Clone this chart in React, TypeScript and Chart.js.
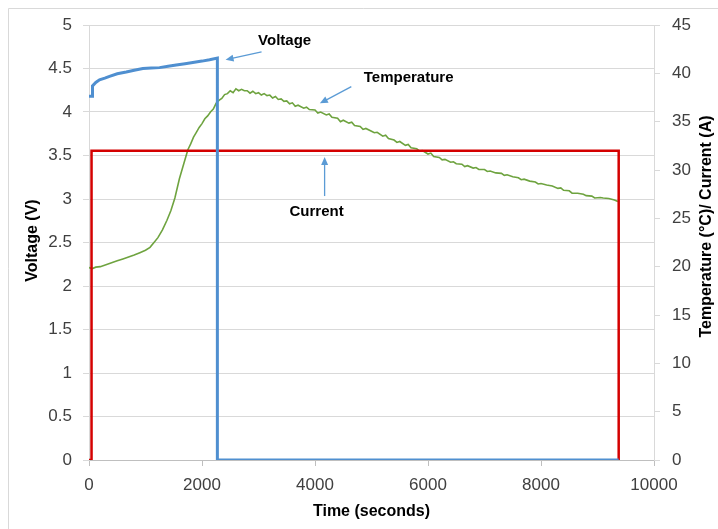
import React, { useEffect, useRef } from "react";
import { Chart, registerables } from "chart.js";

Chart.register(...registerables);

// ---- Data ----
const xTicks = [0, 2000, 4000, 6000, 8000, 10000];
const voltageTicks = [0, 0.5, 1, 1.5, 2, 2.5, 3, 3.5, 4, 4.5, 5];
const rightTicks = [0, 5, 10, 15, 20, 25, 30, 35, 40, 45];

const voltageTime = [0, 60, 62, 120, 186, 280, 363, 500, 659, 800, 953, 1100, 1248, 1400, 1544, 1700, 1838, 2000, 2134, 2272, 2272, 9375];
const voltageValue = [4.18, 4.18, 4.3, 4.34, 4.37, 4.39, 4.41, 4.44, 4.46, 4.48, 4.5, 4.505, 4.51, 4.525, 4.54, 4.555, 4.57, 4.585, 4.6, 4.62, 0, 0];

const currentTime = [0, 45, 45, 9375, 9375];
const currentValue = [0, 0, 32, 32, 0];

const tempTime = [
  0, 60, 120, 200, 300, 400, 500, 600, 700, 800, 900, 1000, 1080, 1150, 1220, 1300, 1380, 1450, 1520, 1600,
  1680, 1750, 1800, 1850, 1900, 1950, 2000, 2050, 2100, 2150, 2200, 2250, 2300, 2350, 2400, 2450, 2500, 2550,
  2600, 2650, 2700, 2750, 2800, 2850, 2900, 2950, 3000, 3050, 3100, 3150, 3200, 3250, 3300, 3350, 3400, 3450,
  3500, 3550, 3600, 3650, 3700, 3800, 3850, 3900, 4000, 4050, 4100, 4200, 4250, 4300, 4400, 4450, 4500, 4600,
  4650, 4700, 4800, 4850, 4900, 5000, 5050, 5100, 5200, 5250, 5300, 5400, 5450, 5500, 5600, 5650, 5700, 5800,
  5850, 5900, 6000, 6050, 6100, 6200, 6250, 6300, 6400, 6450, 6500, 6600, 6650, 6700, 6800, 6850, 6900, 7000,
  7050, 7100, 7200, 7300, 7350, 7400, 7500, 7600, 7650, 7700, 7800, 7900, 7950, 8000, 8100, 8200, 8300, 8350,
  8400, 8500, 8550, 8650, 8700, 8750, 8800, 8900, 8950, 9050, 9100, 9200, 9300, 9360,
];
const tempValue = [
  19.9, 19.8, 19.95, 20.0, 20.2, 20.4, 20.6, 20.8, 21.0, 21.2, 21.45, 21.7, 22.0, 22.5, 23.0, 23.8, 24.8, 25.8, 27.1, 29.1,
  30.7, 32.1, 32.7, 33.4, 33.9, 34.4, 34.8, 35.3, 35.6, 36.0, 36.3, 36.9, 37.2, 37.4, 37.8, 37.9, 38.2, 38.0,
  38.4, 38.2, 38.35, 38.2, 38.2, 37.95, 38.15, 37.9, 38.0, 37.75, 37.9, 37.7, 37.75, 37.45, 37.6, 37.3, 37.35, 37.1,
  37.15, 36.85, 36.95, 36.6, 36.7, 36.4, 36.5, 36.25, 36.2, 35.9, 36.0, 35.7, 35.8, 35.45, 35.35, 35.0, 35.15, 34.85,
  34.95, 34.6, 34.5, 34.2, 34.3, 34.0, 33.85, 33.9, 33.5, 33.6, 33.25, 33.1, 32.85, 32.95, 32.55, 32.65, 32.3, 32.2,
  31.95, 32.0, 31.65, 31.75, 31.4, 31.3, 31.05, 31.1, 30.8, 30.85, 30.65, 30.6, 30.35, 30.45, 30.2, 30.25, 30.05, 30.05,
  29.85, 29.9, 29.7, 29.65, 29.45, 29.5, 29.3, 29.2, 29.0, 29.05, 28.85, 28.75, 28.55, 28.6, 28.45, 28.35, 28.1, 28.15,
  27.9, 27.85, 27.6, 27.6, 27.55, 27.5, 27.35, 27.3, 27.1, 27.15, 27.1, 27.05, 26.9, 26.75,
];

// annotation labels (data coordinates: seconds / volts)
const annotationText = ["Voltage", "Temperature", "Current"];
const annotationLabelX = [3462, 5657, 4028];
const annotationLabelY = [4.816, 4.387, 2.851];
const arrowFromX = [3054, 4643, 4170];
const arrowFromY = [4.69, 4.291, 3.034];
const arrowToX = [2417, 4086, 4170];
const arrowToY = [4.6, 4.1, 3.483];

const FONT = "'Liberation Sans', Arial, sans-serif";
const TICK_COLOR = "#404040";

const toPoints = (xs: number[], ys: number[]) => xs.map((x, i) => ({ x, y: ys[i] }));
const plainLabel = (v: any) => String(v);

const decorPlugin = {
  id: "decor",
  beforeDraw(chart: any) {
    const { ctx, width, height } = chart;
    ctx.save();
    ctx.fillStyle = "#ffffff";
    ctx.fillRect(0, 0, width, height);
    ctx.strokeStyle = "#d9d9d9";
    ctx.lineWidth = 1;
    ctx.beginPath();
    ctx.moveTo(8.5, height);
    ctx.lineTo(8.5, 8.5);
    ctx.lineTo(width, 8.5);
    ctx.stroke();
    ctx.restore();
  },
  afterDraw(chart: any) {
    const { ctx, chartArea } = chart;
    const xs = chart.scales.x;
    const ys = chart.scales.y;
    ctx.save();
    // axis titles
    ctx.fillStyle = "#000000";
    ctx.font = `bold 16px ${FONT}`;
    ctx.textAlign = "center";
    ctx.textBaseline = "middle";
    ctx.fillText("Time (seconds)", (chartArea.left + chartArea.right) / 2, chartArea.bottom + 52);
    const midY = (chartArea.top + chartArea.bottom) / 2;
    ctx.save();
    ctx.translate(chartArea.left - 56, midY - 2);
    ctx.rotate(-Math.PI / 2);
    ctx.fillText("Voltage (V)", 0, 0);
    ctx.restore();
    ctx.save();
    ctx.translate(chartArea.right + 53, midY - 16);
    ctx.rotate(-Math.PI / 2);
    ctx.fillText("Temperature (°C)/ Current (A)", 0, 0);
    ctx.restore();

    // annotations
    ctx.font = `bold 15px ${FONT}`;
    ctx.fillStyle = "#000000";
    annotationText.forEach((t, i) => {
      ctx.fillText(t, xs.getPixelForValue(annotationLabelX[i]), ys.getPixelForValue(annotationLabelY[i]));
    });
    ctx.strokeStyle = "#5b9bd5";
    ctx.fillStyle = "#5b9bd5";
    ctx.lineWidth = 1.3;
    annotationText.forEach((_, i) => {
      const x1 = xs.getPixelForValue(arrowFromX[i]);
      const y1 = ys.getPixelForValue(arrowFromY[i]);
      const x2 = xs.getPixelForValue(arrowToX[i]);
      const y2 = ys.getPixelForValue(arrowToY[i]);
      const ang = Math.atan2(y2 - y1, x2 - x1);
      const len = 8;
      const hw = 3.5;
      ctx.beginPath();
      ctx.moveTo(x1, y1);
      ctx.lineTo(x2 - Math.cos(ang) * len * 0.8, y2 - Math.sin(ang) * len * 0.8);
      ctx.stroke();
      ctx.beginPath();
      ctx.moveTo(x2, y2);
      ctx.lineTo(x2 - Math.cos(ang) * len - Math.sin(ang) * hw, y2 - Math.sin(ang) * len + Math.cos(ang) * hw);
      ctx.lineTo(x2 - Math.cos(ang) * len + Math.sin(ang) * hw, y2 - Math.sin(ang) * len - Math.cos(ang) * hw);
      ctx.closePath();
      ctx.fill();
    });
    ctx.restore();
  },
};

export default function App() {
  const ref = useRef<HTMLCanvasElement | null>(null);

  useEffect(() => {
    if (!ref.current) return;
    const chart = new Chart(ref.current, {
      type: "line",
      data: {
        datasets: [
          {
            label: "Voltage",
            data: toPoints(voltageTime, voltageValue),
            yAxisID: "y",
            borderColor: "#4f8fd0",
            borderWidth: 3,
            pointRadius: 0,
            tension: 0,
            fill: false,
          },
          {
            label: "Current",
            data: toPoints(currentTime, currentValue),
            yAxisID: "y1",
            borderColor: "#d40000",
            borderWidth: 2.5,
            pointRadius: 0,
            tension: 0,
            fill: false,
          },
          {
            label: "Temperature",
            data: toPoints(tempTime, tempValue),
            yAxisID: "y1",
            borderColor: "#6ea33f",
            borderWidth: 1.6,
            pointRadius: 0,
            tension: 0,
            fill: false,
          },
        ],
      },
      options: {
        responsive: false,
        animation: false,
        devicePixelRatio: 1,
        layout: { padding: { top: 25, left: 0, right: 0, bottom: 0 } },
        plugins: { legend: { display: false }, tooltip: { enabled: false } },
        scales: {
          x: {
            type: "linear",
            min: 0,
            max: 10000,
            afterBuildTicks: (s: any) => {
              s.ticks = xTicks.map((v) => ({ value: v }));
            },
            afterFit: (s: any) => {
              s.height = 69;
            },
            ticks: { font: { family: FONT, size: 17 }, color: TICK_COLOR, padding: 9, maxRotation: 0, callback: plainLabel },
            grid: { drawOnChartArea: false, drawTicks: true, tickLength: 6, color: "#bfbfbf" },
            border: { color: "#bfbfbf" },
          },
          y: {
            position: "left",
            min: 0,
            max: 5,
            afterBuildTicks: (s: any) => {
              s.ticks = voltageTicks.map((v) => ({ value: v }));
            },
            afterFit: (s: any) => {
              s.width = 89;
            },
            ticks: { font: { family: FONT, size: 17 }, color: TICK_COLOR, padding: 11, callback: plainLabel },
            grid: { color: "#d9d9d9", tickLength: 6 },
            border: { color: "#d9d9d9" },
          },
          y1: {
            position: "right",
            min: 0,
            max: 45,
            afterBuildTicks: (s: any) => {
              s.ticks = rightTicks.map((v) => ({ value: v }));
            },
            afterFit: (s: any) => {
              s.width = 64;
            },
            ticks: { font: { family: FONT, size: 17 }, color: TICK_COLOR, padding: 12, callback: plainLabel },
            grid: { drawOnChartArea: false, color: "#d9d9d9", tickLength: 6 },
            border: { color: "#d9d9d9" },
          },
        },
      },
      plugins: [decorPlugin],
    } as any);
    return () => chart.destroy();
  }, []);

  return (
    <canvas
      ref={ref}
      width={718}
      height={529}
      style={{ position: "fixed", left: 0, top: 0, width: 718, height: 529, display: "block" }}
    />
  );
}
